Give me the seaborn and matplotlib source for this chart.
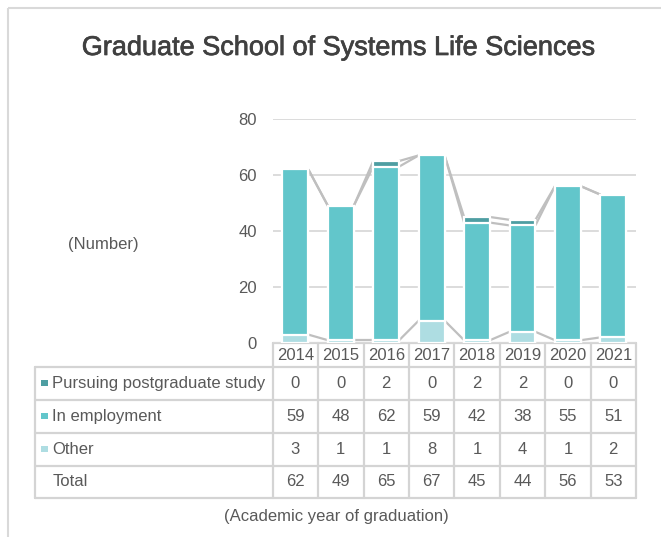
import numpy as np
import pandas as pd
import matplotlib
matplotlib.use("Agg")
import matplotlib.pyplot as plt
from matplotlib.patches import Rectangle
import matplotlib.patheffects as pe
import seaborn as sns

# ---------------- data ----------------
years = ["2014", "2015", "2016", "2017", "2018", "2019", "2020", "2021"]
pursuing = [0, 0, 2, 0, 2, 2, 0, 0]
employment = [59, 48, 62, 59, 42, 38, 55, 51]
other = [3, 1, 1, 8, 1, 4, 1, 2]
totals = [62, 49, 65, 67, 45, 44, 56, 53]
series_names = ["Pursuing postgraduate study", "In employment", "Other"]
title = "Graduate School of Systems Life Sciences"
y_label = "(Number)"
x_label = "(Academic year of graduation)"
y_ticks = [0, 20, 40, 60, 80]

# ---------------- style ----------------
sns.set_style("white")
plt.rcParams["font.family"] = ["Liberation Sans", "DejaVu Sans"]

c_purs = "#4E9EA2"
c_emp = "#62C6CB"
c_oth = "#AEDDE2"
c_line = "#BFBFBF"
c_grid = "#D9D9D9"
c_tab = "#D4D4D4"
c_text = "#595959"
bar_w = 0.57

df = pd.DataFrame({
    "year": years,
    "other": other,
    "emp_cum": np.array(other) + np.array(employment),
    "total_cum": np.array(other) + np.array(employment) + np.array(pursuing),
})

W, H = 661, 537
fig = plt.figure(figsize=(W / 100, H / 100), dpi=100)

# pixel geometry
x0, x1 = 272.7, 636.0          # plot / table data columns
y_top, y_zero = 119.0, 343.0   # 80 and 0 on the value axis

ax = fig.add_axes([x0 / W, 1 - y_zero / H, (x1 - x0) / W, (y_zero - y_top) / H])

# overlay axes in pixel coordinates for frame/table/text
ov = fig.add_axes([0, 0, 1, 1], zorder=-1)
ov.set_xlim(0, W)
ov.set_ylim(H, 0)
ov.axis("off")

# stacked bars via cumulative overlap
for col, color in [("total_cum", c_purs), ("emp_cum", c_emp), ("other", c_oth)]:
    sns.barplot(data=df, x="year", y=col, order=years, color=color,
                saturation=1, width=bar_w, edgecolor="white", linewidth=1.6,
                errorbar=None, ax=ax, zorder=3)

# series lines
idx = np.arange(len(years))
for level in [df["other"].values, df["emp_cum"].values, df["total_cum"].values]:
    for i in range(len(years) - 1):
        ax.plot([idx[i] + bar_w / 2, idx[i + 1] - bar_w / 2],
                [level[i], level[i + 1]], color=c_line, lw=1.6, zorder=2,
                solid_capstyle="butt")

ax.set_xlim(-0.5, len(years) - 0.5)
ax.set_ylim(0, 80)
ax.set_yticks(y_ticks)
ax.set_yticklabels([str(t) for t in y_ticks])
ax.tick_params(axis="y", length=0, pad=11.5, labelsize=12, labelcolor=c_text)
ax.tick_params(axis="x", length=0, labelbottom=False)
ax.set_xlabel("")
ax.set_ylabel("")
ax.yaxis.grid(True, color=c_grid, lw=1.3, zorder=0)
ax.set_axisbelow(True)
for s in ax.spines.values():
    s.set_visible(False)
ax.patch.set_alpha(0)

# outer frame
ov.add_patch(Rectangle((8, 8), W + 20, H + 20, fill=False, edgecolor="#D9D9D9", lw=1.5))

# title and axis texts
ov.text(339, 48, title, ha="center", va="center", fontsize=19.5, color="#404040",
        path_effects=[pe.withStroke(linewidth=0.5, foreground="#404040")])
ov.text(103, 244, y_label, ha="center", va="center", fontsize=12, color=c_text)
ov.text(336, 517, x_label, ha="center", va="center", fontsize=12, color=c_text)

# data table
n = len(years)
cw = (x1 - x0) / n
tab_left = 35.0
row_edges = [343.0, 367.0, 400.0, 433.0, 466.0, 498.0]
lw_t = 1.6
# horizontal lines
ov.plot([x0, x1], [row_edges[0]] * 2, color=c_tab, lw=lw_t)
for yy in row_edges[1:]:
    ov.plot([tab_left, x1], [yy, yy], color=c_tab, lw=lw_t)
# vertical lines
ov.plot([tab_left, tab_left], [row_edges[1], row_edges[-1]], color=c_tab, lw=lw_t)
for k in range(n + 1):
    xx = x0 + k * cw
    ov.plot([xx, xx], [row_edges[0], row_edges[-1]], color=c_tab, lw=lw_t)

# header years
for k, yr in enumerate(years):
    ov.text(x0 + (k + 0.5) * cw, (row_edges[0] + row_edges[1]) / 2 + 1, yr,
            ha="center", va="center", fontsize=12, color=c_text)

rows = [(series_names[0], c_purs, pursuing),
        (series_names[1], c_emp, employment),
        (series_names[2], c_oth, other),
        ("Total", None, totals)]
for r, (name, color, vals) in enumerate(rows):
    yc = (row_edges[r + 1] + row_edges[r + 2]) / 2
    if color is not None:
        ov.add_patch(Rectangle((41, yc - 4.0), 6.5, 6.5, color=color, lw=0))
    ov.text(52.5, yc, name, ha="left", va="center", fontsize=12, color=c_text)
    for k, v in enumerate(vals):
        ov.text(x0 + (k + 0.5) * cw, yc, str(v), ha="center", va="center",
                fontsize=12, color=c_text)

fig.savefig("out.png", dpi=100)
